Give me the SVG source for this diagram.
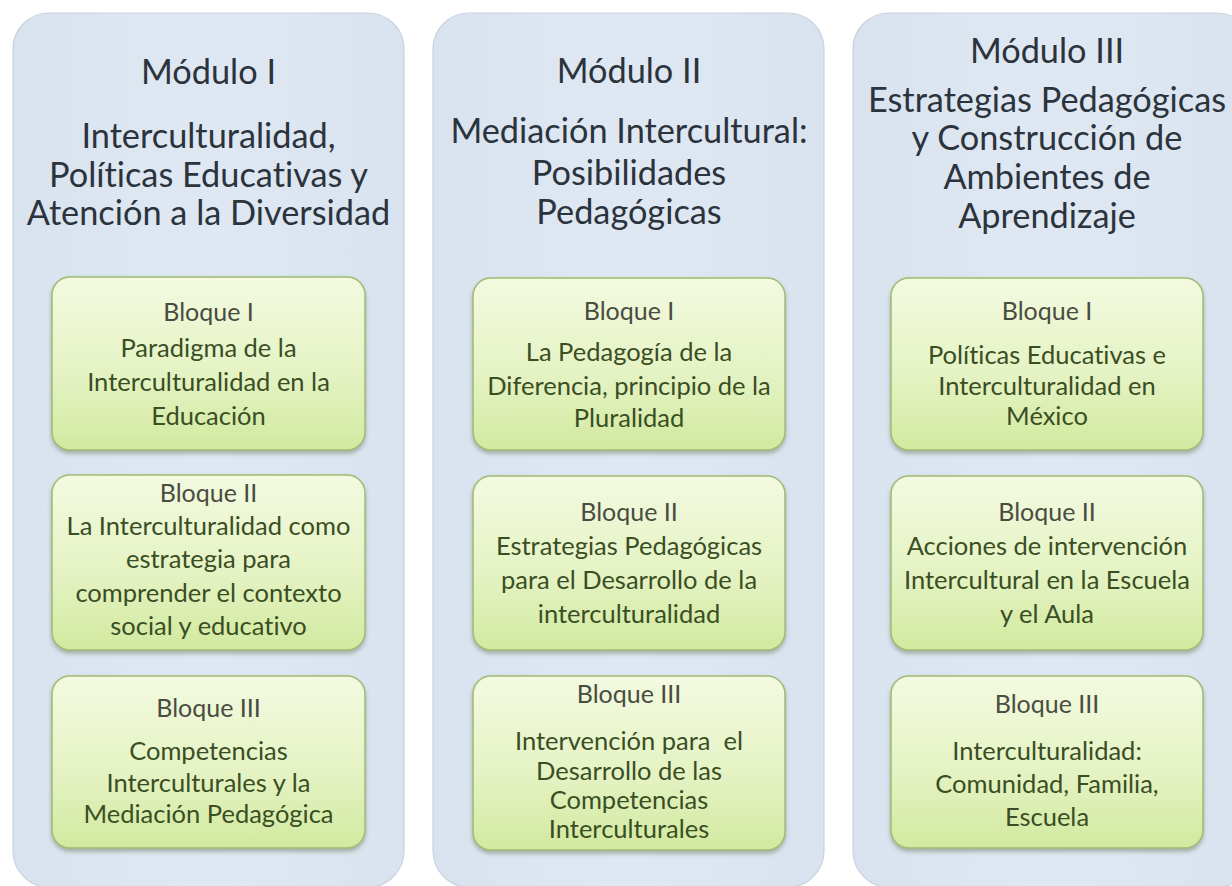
<svg xmlns="http://www.w3.org/2000/svg" width="1232" height="886" viewBox="0 0 1232 886">
  <defs>
    <linearGradient id="boxGrad" x1="0" y1="0" x2="0" y2="1">
      <stop offset="0" stop-color="#f3fae0"/>
      <stop offset="0.55" stop-color="#e5f3c4"/>
      <stop offset="1" stop-color="#d2e99f"/>
    </linearGradient>
    <linearGradient id="panelGrad" x1="0" y1="0" x2="1" y2="0">
      <stop offset="0" stop-color="#d9e3ef"/>
      <stop offset="0.5" stop-color="#dfe8f2"/>
      <stop offset="1" stop-color="#d9e3ef"/>
    </linearGradient>
    <filter id="shadow" x="-10%" y="-10%" width="120%" height="130%">
      <feDropShadow dx="0" dy="3" stdDeviation="2" flood-color="#5a6a50" flood-opacity="0.45"/>
    </filter>
    <style>
      text { font-family: Lato, "Liberation Sans", sans-serif; text-anchor: middle; font-variant-ligatures: none; font-feature-settings: "liga" 0; }
      .panel { fill: url(#panelGrad); stroke: #c9d3de; stroke-width: 1.2; }
      .box { fill: url(#boxGrad); stroke: #a0bb74; stroke-width: 1.5; filter: url(#shadow); }
      .title { font-size: 34.3px; fill: #2b333d; }
      .head { font-size: 25px; fill: #4a4c42; }
      .body { font-size: 25.5px; fill: #3a4e24; }
    </style>
  </defs>

  <rect width="1232" height="886" fill="#ffffff"/>

  <!-- Module I -->
  <g id="modulo1">
    <rect class="panel" x="13" y="13" width="391" height="874" rx="36" ry="36"/>
    <text class="title" x="208.5" y="84">Módulo I</text>
    <text class="title" x="208.5" y="148">Interculturalidad,</text>
    <text class="title" x="208.5" y="187">Políticas Educativas y</text>
    <text class="title" x="208.5" y="225">Atención a la Diversidad</text>
  </g>
  <g id="m1b1">
    <rect class="box" x="52" y="277" width="313" height="173" rx="18" ry="18"/>
    <text class="head" x="208.5" y="321">Bloque I</text>
    <text class="body" x="208.5" y="357">Paradigma de la</text>
    <text class="body" x="208.5" y="391">Interculturalidad en la</text>
    <text class="body" x="208.5" y="425">Educación</text>
  </g>
  <g id="m1b2">
    <rect class="box" x="52" y="475" width="313" height="175" rx="18" ry="18"/>
    <text class="head" x="208.5" y="502">Bloque II</text>
    <text class="body" x="208.5" y="535">La Interculturalidad como</text>
    <text class="body" x="208.5" y="568">estrategia para</text>
    <text class="body" x="208.5" y="602">comprender el contexto</text>
    <text class="body" x="208.5" y="635">social y educativo</text>
  </g>
  <g id="m1b3">
    <rect class="box" x="52" y="676" width="313" height="172" rx="18" ry="18"/>
    <text class="head" x="208.5" y="717">Bloque III</text>
    <text class="body" x="208.5" y="760">Competencias</text>
    <text class="body" x="208.5" y="792">Interculturales y la</text>
    <text class="body" x="208.5" y="823">Mediación Pedagógica</text>
  </g>

  <!-- Module II -->
  <g id="modulo2">
    <rect class="panel" x="433" y="13" width="391" height="874" rx="36" ry="36"/>
    <text class="title" x="629" y="83">Módulo II</text>
    <text class="title" x="629" y="143">Mediación Intercultural:</text>
    <text class="title" x="629" y="185">Posibilidades</text>
    <text class="title" x="629" y="224">Pedagógicas</text>
  </g>
  <g id="m2b1">
    <rect class="box" x="473" y="278" width="312" height="172" rx="18" ry="18"/>
    <text class="head" x="629" y="320">Bloque I</text>
    <text class="body" x="629" y="361">La Pedagogía de la</text>
    <text class="body" x="629" y="395">Diferencia, principio de la</text>
    <text class="body" x="629" y="427">Pluralidad</text>
  </g>
  <g id="m2b2">
    <rect class="box" x="473" y="476" width="312" height="174" rx="18" ry="18"/>
    <text class="head" x="629" y="521">Bloque II</text>
    <text class="body" x="629" y="555">Estrategias Pedagógicas</text>
    <text class="body" x="629" y="589">para el Desarrollo de la</text>
    <text class="body" x="629" y="623">interculturalidad</text>
  </g>
  <g id="m2b3">
    <rect class="box" x="473" y="676" width="312" height="174" rx="18" ry="18"/>
    <text class="head" x="629" y="703">Bloque III</text>
    <text class="body" x="629" y="750" xml:space="preserve">Intervención para  el</text>
    <text class="body" x="629" y="780">Desarrollo de las</text>
    <text class="body" x="629" y="809">Competencias</text>
    <text class="body" x="629" y="838">Interculturales</text>
  </g>

  <!-- Module III -->
  <g id="modulo3">
    <rect class="panel" x="853" y="13" width="400" height="874" rx="36" ry="36"/>
    <text class="title" x="1047" y="63">Módulo III</text>
    <text class="title" x="1047" y="112">Estrategias Pedagógicas</text>
    <text class="title" x="1047" y="150">y Construcción de</text>
    <text class="title" x="1047" y="189">Ambientes de</text>
    <text class="title" x="1047" y="228">Aprendizaje</text>
  </g>
  <g id="m3b1">
    <rect class="box" x="891" y="278" width="312" height="172" rx="18" ry="18"/>
    <text class="head" x="1047" y="320">Bloque I</text>
    <text class="body" x="1047" y="364">Políticas Educativas e</text>
    <text class="body" x="1047" y="395">Interculturalidad en</text>
    <text class="body" x="1047" y="425">México</text>
  </g>
  <g id="m3b2">
    <rect class="box" x="891" y="476" width="312" height="174" rx="18" ry="18"/>
    <text class="head" x="1047" y="521">Bloque II</text>
    <text class="body" x="1047" y="555">Acciones de intervención</text>
    <text class="body" x="1047" y="589">Intercultural en la Escuela</text>
    <text class="body" x="1047" y="623">y el Aula</text>
  </g>
  <g id="m3b3">
    <rect class="box" x="891" y="676" width="312" height="172" rx="18" ry="18"/>
    <text class="head" x="1047" y="713">Bloque III</text>
    <text class="body" x="1047" y="760">Interculturalidad:</text>
    <text class="body" x="1047" y="793">Comunidad, Familia,</text>
    <text class="body" x="1047" y="826">Escuela</text>
  </g>

  <g id="connectors"/>
</svg>
